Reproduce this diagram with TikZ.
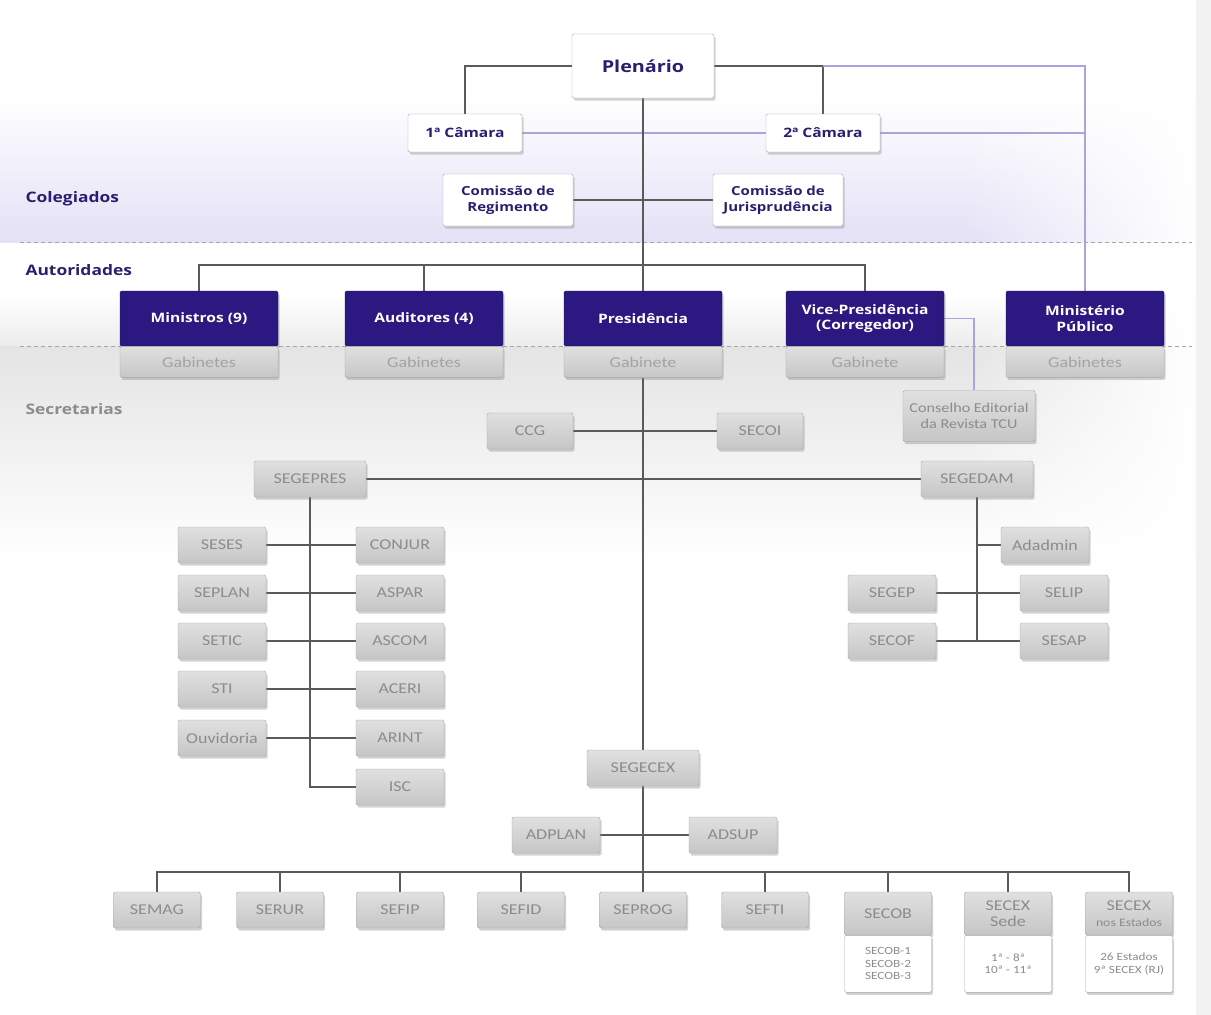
\documentclass[tikz,border=0pt]{standalone}
\usepackage{fontspec}
\setmainfont{Carlito}
\newfontfamily\headfont[FakeStretch=1.2]{Open Sans}
\newfontfamily\greyfont[FakeStretch=1.2]{Carlito}
\usetikzlibrary{positioning,shadows,fadings}

\definecolor{navy}{HTML}{2A1F6E}
\definecolor{indigo}{HTML}{2B1880}
\definecolor{linegrey}{HTML}{5A5A5A}
\definecolor{lineblue}{HTML}{A9A4DE}
\definecolor{boxline}{HTML}{A8A8A8}
\definecolor{greytext}{HTML}{8C8C8C}
\definecolor{greytop}{HTML}{E0E0E0}
\definecolor{greybot}{HTML}{C6C6C6}
\definecolor{lav}{HTML}{E4E0F6}
\definecolor{greyband}{HTML}{E4E4E4}

\pgfdeclarelayer{bands}
\pgfdeclarelayer{lines}
\pgfsetlayers{bands,lines,main}

\begin{document}
\begin{tikzpicture}[
    x=1pt, y=-1pt,
    box/.style={rectangle, rounded corners=1.5pt, inner sep=0pt, align=center,
        drop shadow={shadow xshift=1.5pt, shadow yshift=-2.5pt, opacity=0.35}},
    colbox/.style={box, draw=boxline, fill=white, text=navy,
        font=\headfont\bfseries\fontsize{13}{14}\selectfont,
        minimum width=114pt, minimum height=38pt},
    plenbox/.style={colbox, font=\headfont\bfseries\fontsize{16.5}{18}\selectfont,
        minimum width=142pt, minimum height=64pt},
    comibox/.style={colbox, font=\headfont\bfseries\fontsize{12.5}{16}\selectfont,
        minimum width=130pt, minimum height=52pt},
    authbox/.style={box, draw=indigo!80!black, fill=indigo, text=white,
        font=\headfont\bfseries\fontsize{13}{15.5}\selectfont,
        minimum width=158pt, minimum height=55pt},
    gabbox/.style={box, draw=boxline, top color=greytop, bottom color=greybot,
        text=greytext!80, font=\greyfont\fontsize{15}{16}\selectfont,
        minimum width=158pt, minimum height=31pt},
    secbox/.style={box, draw=boxline, top color=greytop, bottom color=greybot,
        text=greytext, font=\greyfont\fontsize{15}{16}\selectfont,
        minimum width=88pt, minimum height=36pt},
    headbox/.style={secbox, minimum width=87pt, minimum height=43pt},
    listbox/.style={box, draw=boxline, fill=white, text=greytext,
        font=\greyfont\fontsize{11}{12.5}\selectfont,
        minimum width=87pt, minimum height=57pt},
    bandlabel/.style={anchor=west, text=navy, font=\headfont\bfseries\fontsize{14.5}{16}\selectfont},
    link/.style={draw=linegrey, line width=1.3pt},
    bluelink/.style={draw=lineblue, line width=1.1pt},
    sepline/.style={draw=black!35, line width=0.8pt, dash pattern=on 4pt off 3pt}
]
\useasboundingbox (0,0) rectangle (1211,1015);

% Bands
\begin{pgfonlayer}{bands}
\fill[white] (0,0) rectangle (1211,1015);
\fill[top color=white, bottom color=lav] (0,95) rectangle (1195,242);
\fill[top color=white, bottom color=greyband!70] (0,295) rectangle (1195,346);
\fill[top color=greyband, bottom color=white] (0,346) rectangle (1195,560);
\fill[white, path fading=west] (960,90) rectangle (1196,560);
\fill[black!5] (1196,0) rectangle (1211,1015);
\draw[sepline] (20,242) -- (1192,242);
\draw[sepline] (20,346) -- (1192,346);
\end{pgfonlayer}

% Band labels
\node[bandlabel] (colegiados) at (22,199) {Colegiados};
\node[bandlabel] (autoridades) at (22,270) {Autoridades};
\node[bandlabel, text=greytext] (secretarias) at (22,409) {Secretarias};

% Colegiados
\node[plenbox] (plen) at (643,66) {Plenário};
\node[colbox] (cam1) at (465,133) {1ª Câmara};
\node[colbox] (cam2) at (823,133) {2ª Câmara};
\node[comibox] (creg) at (508,200) {Comissão de\\Regimento};
\node[comibox] (cjur) at (778,200) {Comissão de\\Jurisprudência};

% Autoridades
\node[authbox] (min) at (199,318.5) {Ministros (9)};
\node[gabbox, below=0pt of min] (ming) {Gabinetes};
\node[authbox] (aud) at (424,318.5) {Auditores (4)};
\node[gabbox, below=0pt of aud] (audg) {Gabinetes};
\node[authbox] (pres) at (643,318.5) {Presidência};
\node[gabbox, below=0pt of pres] (presg) {Gabinete};
\node[authbox] (vice) at (865,318.5) {Vice-Presidência\\(Corregedor)};
\node[gabbox, below=0pt of vice] (viceg) {Gabinete};
\node[authbox] (mp) at (1085,318.5) {Ministério\\Público};
\node[gabbox, below=0pt of mp] (mpg) {Gabinetes};

% Secretarias
\node[secbox, minimum width=132pt, minimum height=51pt,
      font=\greyfont\fontsize{13.5}{16}\selectfont] (cons) at (969,416) {Conselho Editorial\\da Revista TCU};
\node[secbox, minimum width=86pt] (ccg) at (530,431) {CCG};
\node[secbox, minimum width=86pt] (secoi) at (760,431) {SECOI};
\node[secbox, minimum width=112pt] (segepres) at (310,479) {SEGEPRES};
\node[secbox, minimum width=112pt] (segedam) at (977,479) {SEGEDAM};

\node[secbox] (seses) at (222,545) {SESES};
\node[secbox] (seplan) at (222,593) {SEPLAN};
\node[secbox] (setic) at (222,641) {SETIC};
\node[secbox] (sti) at (222,689) {STI};
\node[secbox] (ouvid) at (222,738) {Ouvidoria};
\node[secbox] (conjur) at (400,545) {CONJUR};
\node[secbox] (aspar) at (400,593) {ASPAR};
\node[secbox] (ascom) at (400,641) {ASCOM};
\node[secbox] (aceri) at (400,689) {ACERI};
\node[secbox] (arint) at (400,738) {ARINT};
\node[secbox] (isc) at (400,787) {ISC};

\node[secbox] (adadmin) at (1045,545) {Adadmin};
\node[secbox] (segep) at (892,593) {SEGEP};
\node[secbox] (selip) at (1064,593) {SELIP};
\node[secbox] (secof) at (892,641) {SECOF};
\node[secbox] (sesap) at (1064,641) {SESAP};

\node[secbox, minimum width=112pt] (segecex) at (643,768) {SEGECEX};
\node[secbox] (adplan) at (556,835) {ADPLAN};
\node[secbox] (adsup) at (733,835) {ADSUP};

% Bottom row
\node[secbox, minimum width=87pt] (semag) at (157,910) {SEMAG};
\node[secbox, minimum width=87pt] (serur) at (280,910) {SERUR};
\node[secbox, minimum width=87pt] (sefip) at (400,910) {SEFIP};
\node[secbox, minimum width=87pt] (sefid) at (521,910) {SEFID};
\node[secbox, minimum width=87pt] (seprog) at (643,910) {SEPROG};
\node[secbox, minimum width=87pt] (sefti) at (765,910) {SEFTI};
\node[headbox] (secob) at (888,913.5) {SECOB};
\node[listbox, below=0pt of secob] (secobl) {SECOB-1\\SECOB-2\\SECOB-3};
\node[headbox] (secexs) at (1008,913.5) {SECEX\\Sede};
\node[listbox, below=0pt of secexs] (secexsl) {1ª - 8ª\\10ª - 11ª};
\node[headbox] (secexe) at (1129,913.5) {SECEX\\{\fontsize{11.5}{12}\selectfont nos Estados}};
\node[listbox, below=0pt of secexe] (secexel) {26 Estados\\9ª SECEX (RJ)};

\coordinate (abus) at (643,265);
\coordinate (bus) at (643,872);

% Connectors
\begin{pgfonlayer}{lines}
\draw[link] (plen.west) -| (cam1.north);
\draw[link] (plen.east) -| (cam2.north);
\draw[bluelink] (plen.east -| cam2.north) -| (mp.north);
\draw[bluelink] (cam1.east) -- (cam2.west);
\draw[bluelink] (cam2.east) -- (cam2.east -| mp.north);
\draw[link] (plen.south) -- (pres.north);
\draw[link] (creg.east) -- (cjur.west);
\draw[link] (min.north) |- (abus) -| (vice.north);
\draw[link] (aud.north) -- (aud.north |- abus);
\draw[bluelink] (vice.east) -| ([xshift=5pt]cons.north);

\draw[link] (presg.south) -- (segecex.north);
\draw[link] (segecex.south) -- (bus);
\draw[link] (ccg.east) -- (secoi.west);
\draw[link] (segepres.east) -- (segedam.west);

\draw[link] (segepres.south) |- (isc.west);
\draw[link] (seses.east) -- (conjur.west);
\draw[link] (seplan.east) -- (aspar.west);
\draw[link] (setic.east) -- (ascom.west);
\draw[link] (sti.east) -- (aceri.west);
\draw[link] (ouvid.east) -- (arint.west);

\draw[link] (segedam.south) -- (segedam.south |- secof.east);
\draw[link] (segedam.south |- adadmin.west) -- (adadmin.west);
\draw[link] (segep.east) -- (selip.west);
\draw[link] (secof.east) -- (sesap.west);

\draw[link] (adplan.east) -- (adsup.west);

\draw[link] (semag.north) |- (bus) -| (secexe.north);
\draw[link] (serur.north) -- (serur.north |- bus);
\draw[link] (sefip.north) -- (sefip.north |- bus);
\draw[link] (sefid.north) -- (sefid.north |- bus);
\draw[link] (seprog.north) -- (seprog.north |- bus);
\draw[link] (sefti.north) -- (sefti.north |- bus);
\draw[link] (secob.north) -- (secob.north |- bus);
\draw[link] (secexs.north) -- (secexs.north |- bus);
\end{pgfonlayer}

\end{tikzpicture}
\end{document}
